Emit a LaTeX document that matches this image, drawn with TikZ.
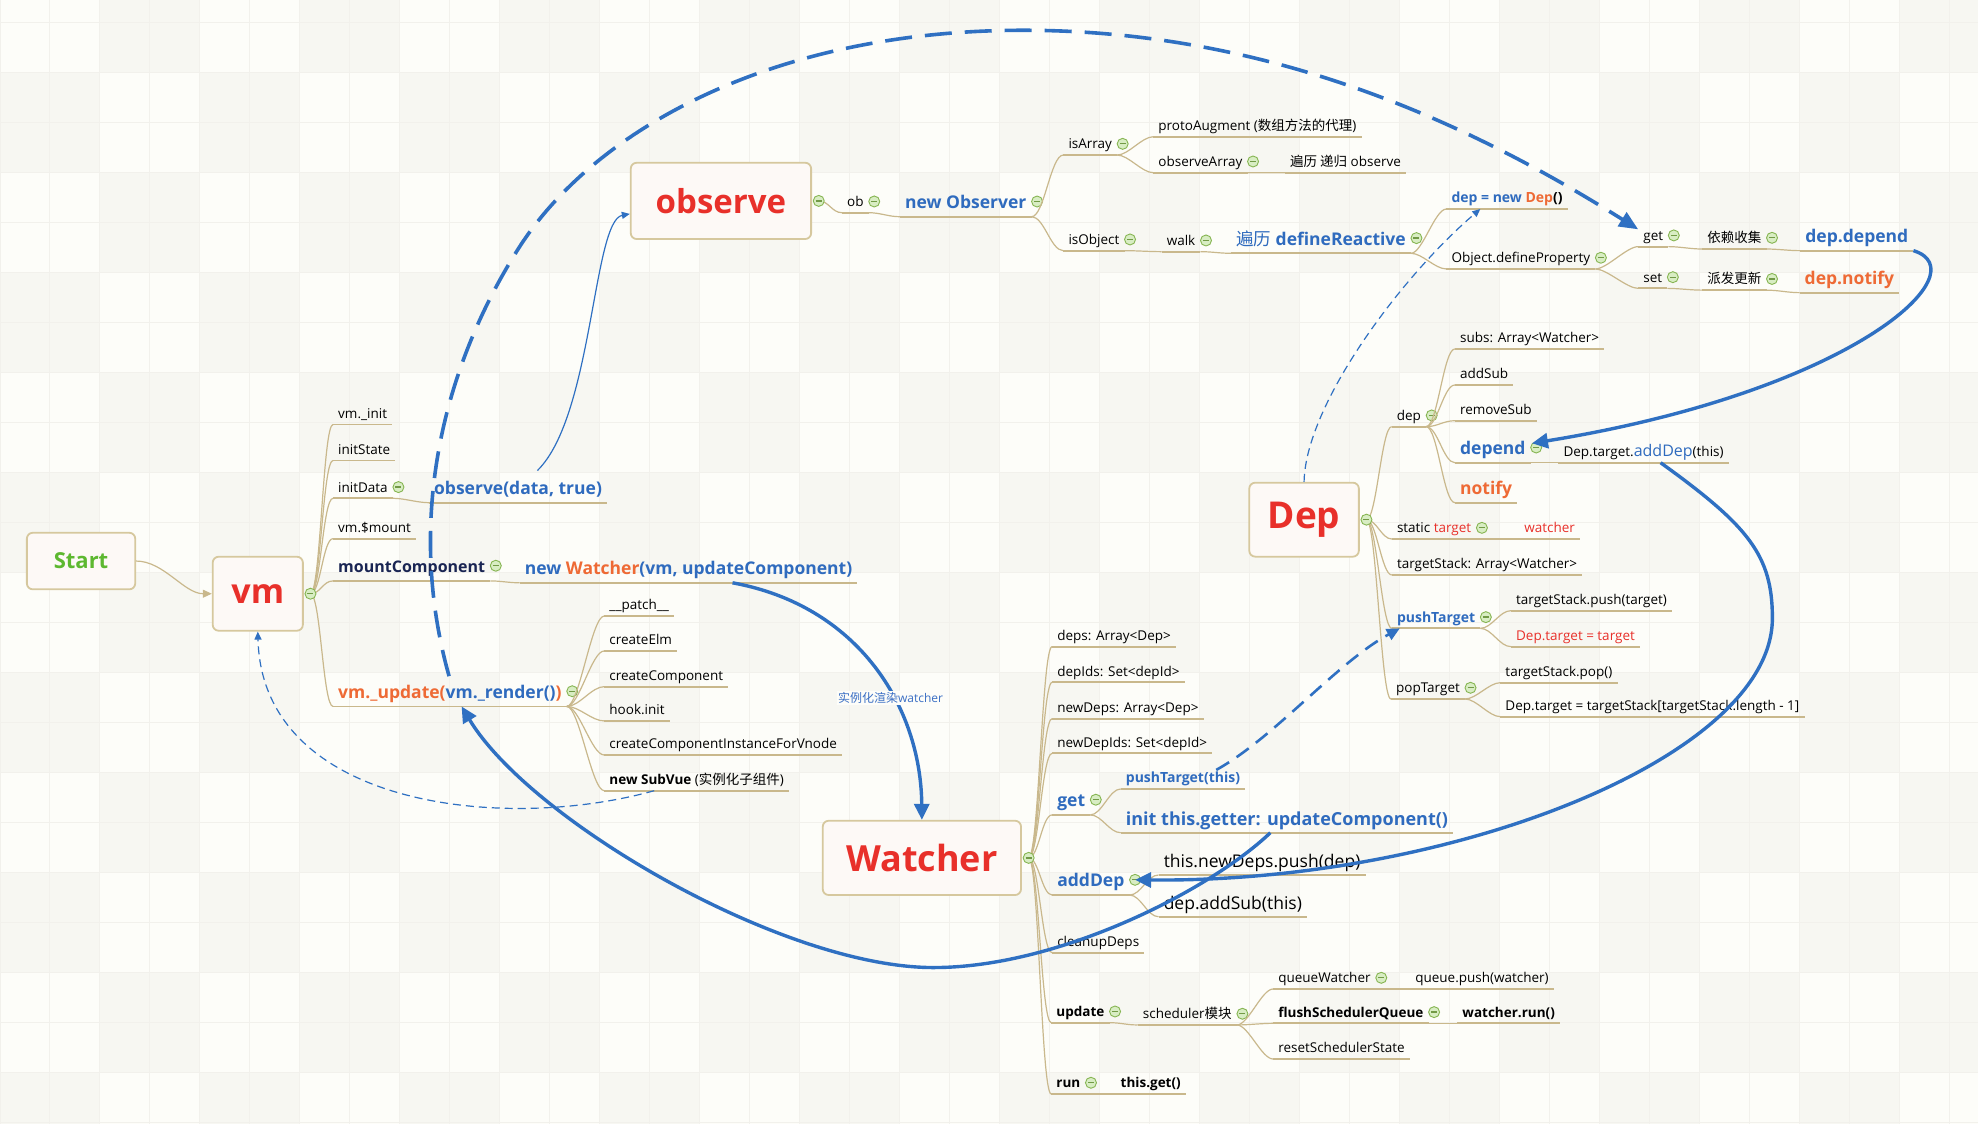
\documentclass[tikz,border=0pt]{standalone}
\usepackage{fontspec}
\setmainfont{Open Sans}
\newfontfamily\cjk{Noto Sans CJK SC}
\usetikzlibrary{arrows.meta,calc}

\definecolor{tanc}{HTML}{C9B88C}
\definecolor{boxline}{HTML}{D6C89E}
\definecolor{boxfill}{HTML}{FDF9F6}
\definecolor{mmred}{HTML}{E8302A}
\definecolor{mmorange}{HTML}{EE6A35}
\definecolor{mmblue}{HTML}{2F6BBE}
\definecolor{mmnavy}{HTML}{1A2553}
\definecolor{mmgreen}{HTML}{5DB830}
\definecolor{lnblue}{HTML}{2F70C2}
\definecolor{lblblue}{HTML}{3B6FC4}
\definecolor{iconline}{HTML}{86B552}
\definecolor{iconfill}{HTML}{D8EDC3}
\definecolor{bgc}{HTML}{FDFDF9}
\definecolor{bgcell}{HTML}{F7F7F2}
\definecolor{gridc}{HTML}{F2F1EC}

\def\mmIy{5pt}
\tikzset{
  mk/.style={circle, draw=iconline, fill=iconfill, line width=0.9pt, minimum size=11pt, inner sep=0pt,
    path picture={\draw[iconline!85!black, line width=1.3pt] ([xshift=-3pt]path picture bounding box.center) -- ([xshift=3pt]path picture bounding box.center);}},
  uline/.style={draw=tanc, line width=1.8pt},
  tp/.style={anchor=south west, inner xsep=5pt, inner ysep=2pt, text depth=4pt, font=\fontsize{13.5}{15}\selectfont, /utils/exec={\gdef\mmIy{5pt}}},
  tpm/.style={tp, text depth=6pt, font=\fontsize{17.5}{20}\selectfont\bfseries, /utils/exec={\gdef\mmIy{7pt}}},
  tpl/.style={tp, text depth=5.5pt, font=\fontsize{17.5}{20}\selectfont, /utils/exec={\gdef\mmIy{7pt}}},
  br/.style={draw=tanc, line width=1.2pt, to path={.. controls +(#1,0) and +(-#1,0) .. (\tikztotarget)}},
  br/.default=9,
  mainbox/.style={draw=boxline, fill=boxfill, rounded corners=6pt, line width=1.8pt, inner sep=0pt, text=mmred},
  thickblue/.style={draw=lnblue, line width=3.4pt, -{Triangle[length=16pt,width=15pt]}},
  thinblue/.style={draw=lnblue, line width=1.2pt, -{Triangle[length=8pt,width=7pt]}},
  thindash/.style={thinblue, dash pattern=on 8pt off 5pt},
  meddash/.style={draw=lnblue, line width=2.6pt, dash pattern=on 15pt off 9pt, -{Triangle[length=13pt,width=12pt]}},
  bigdash/.style={draw=lnblue, line width=3.6pt, dash pattern=on 27pt off 13pt, -{Triangle[length=19pt,width=16pt]}}
}
\newcommand\mmT[5][]{\node[tp,#1] (#2) at (#3,#4) {#5};\draw[uline] (#2.south west) -- (#2.south east);}
\newcommand\mmTI[5][]{\mmT[#1]{#2}{#3}{#4}{#5}\node[mk] (#2I) at ([xshift=5.5pt,yshift=\mmIy]#2.base east) {};}

\begin{document}
\begin{tikzpicture}[x=1.2615pt,y=-1.2615pt]
\useasboundingbox (0,0) rectangle (1568,891);
% background
\begin{scope}
\clip (0,0) rectangle (1568,891);
\fill[bgc] (0,0) rectangle (1568,891);
\foreach \i in {0,...,19}{\foreach \j in {0,...,12}{\pgfmathtruncatemacro\k{mod(\i+\j,2)}\ifnum\k=1 \fill[bgcell] ({\i*79.27},{\j*79.27-21.6}) rectangle ++(79.27,79.27);\fi}}
\foreach \i in {0,...,40}{\draw[gridc, line width=1pt] ({\i*39.635},0) -- ++(0,891);}
\foreach \j in {0,...,23}{\draw[gridc, line width=1pt] (0,{\j*39.635-21.6}) -- ++(1568,0);}
\end{scope}

% main boxes
\node[mainbox, minimum width=108.4pt, minimum height=56.6pt, font=\fontsize{22}{24}\selectfont\bfseries, text=mmgreen] (start) at (64.25,444.75) {Start};
\node[mainbox, minimum width=90.2pt, minimum height=74pt, font=\fontsize{34}{36}\selectfont\bfseries] (vmbox) at (204.35,470.65) {vm};
\node[mainbox, minimum width=180.4pt, minimum height=76.3pt, font=\fontsize{33}{36}\selectfont\bfseries] (obsbox) at (571.5,159.25) {observe};
\node[mainbox, minimum width=109.6pt, minimum height=74pt, font=\fontsize{37}{40}\selectfont\bfseries] (depbox) at (1033.75,411.95) {Dep};
\node[mainbox, minimum width=198.3pt, minimum height=74.3pt, font=\fontsize{36}{38}\selectfont\bfseries] (wbox) at (730.8,680.05) {Watcher};

% vm tree
\mmT{vmInit}{264}{336.5}{vm.\_init}
\mmT{initState}{264}{365}{initState}
\mmTI{initData}{264}{395}{initData}
\mmT[tpm,font=\fontsize{17.5}{19}\selectfont\bfseries,text=mmblue]{obsData}{340}{398.5}{observe(data, true)}
\mmT{vmMount}{264}{427}{vm.\$mount}
\mmTI[tpm,font=\fontsize{16}{19}\selectfont\bfseries,text=mmnavy]{mountComp}{264}{460.5}{mountComponent}
\mmT[tpm]{newWatcher}{412}{462}{\textcolor{mmblue}{new }\textcolor{mmorange}{Watcher}\textcolor{mmblue}{(vm, updateComponent)}}
\mmTI[tpm]{vmUpd}{264}{560}{\textcolor{mmorange}{vm.\_update(}\textcolor{mmblue}{vm.\_render()}\textcolor{mmorange}{)}}
\mmT{patch}{479}{488.3}{\_\_patch\_\_}
\mmT{createElm}{479}{516}{createElm}
\mmT{createComp}{479}{544.3}{createComponent}
\mmT{hookInit}{479}{571.5}{hook.init}
\mmT{ccifv}{479}{598.5}{createComponentInstanceForVnode}
\mmT{subVue}{479}{626.8}{\textbf{new SubVue} ({\cjk 实例化子组件})}

% observe tree
\mmTI{ob}{667.4}{168.6}{ob}
\mmTI[tpm,text=mmblue]{newObs}{713.4}{171.8}{new Observer}
\mmTI{isArray}{842.9}{122.9}{isArray}
\mmT{proto}{914.2}{108.4}{protoAugment ({\cjk 数组方法的代理})}
\mmTI{obsArr}{914.2}{136.9}{observeArray}
\mmT{bianli}{1018.6}{137}{{\cjk 遍历 递归} observe}
\mmTI{isObject}{842.9}{198.7}{isObject}
\mmTI{walk}{920.8}{199.5}{walk}
\mmTI[tpm,text=mmblue]{defReact}{975.8}{200.8}{{\cjk\mdseries 遍历} defineReactive}
\mmT[font=\fontsize{14}{16}\selectfont\bfseries]{depNew}{1146.5}{165.7}{\textcolor{mmblue}{dep = new }\textcolor{mmorange}{Dep}()}
\mmTI{objDef}{1146.5}{213.2}{Object.defineProperty}
\mmTI{get}{1298.6}{195.5}{get}
\mmTI{yilai}{1349.3}{197.4}{{\cjk 依赖收集}}
\mmT[tpm,text=mmblue]{depDepend}{1427}{198.7}{dep.depend}
\mmTI{set}{1298.6}{228.6}{set}
\mmTI{paifa}{1349.3}{230}{{\cjk 派发更新}}
\mmT[tpm,text=mmorange]{depNotify}{1426.5}{232}{dep.notify}

% Dep tree
\mmTI{depK}{1103.2}{338.2}{dep}
\mmT{subs}{1153.3}{276.6}{subs: Array<Watcher>}
\mmT{addSub}{1153.3}{305.2}{addSub}
\mmT{removeSub}{1153.3}{333.5}{removeSub}
\mmTI[tpm,text=mmblue]{depend}{1153.3}{366.8}{depend}
\mmT[font=\fontsize{13.5}{16}\selectfont]{addDepCall}{1235.3}{366.8}{Dep.target.\textcolor{mmblue}{\fontsize{16}{18}\selectfont addDep}(this)}
\mmT[tpm,text=mmorange]{notify}{1153.3}{398.5}{notify}
\mmTI{staticT}{1103.3}{427.3}{static \textcolor{mmred}{target}}
\mmT{watcherT}{1204.3}{427.3}{\textcolor{mmred}{watcher}}
\mmT{tStack}{1103.3}{455.8}{targetStack: Array<Watcher>}
\mmTI[font=\fontsize{14}{16}\selectfont\bfseries,text=mmblue]{pushT}{1103.3}{498.1}{pushTarget}
\mmT{tsPush}{1197.7}{484.1}{targetStack.push(target)}
\mmT[text=mmred]{depTT}{1197.7}{512.6}{Dep.target = target}
\mmTI{popT}{1102.6}{554.1}{popTarget}
\mmT{tsPop}{1189.3}{541.2}{targetStack.pop()}
\mmT{depTS}{1189.3}{568.1}{Dep.target = targetStack[targetStack.length - 1]}

% Watcher tree
\mmT{deps}{834}{512.6}{deps: Array<Dep>}
\mmT{depIds}{834}{540.9}{depIds: Set<depId>}
\mmT{newDeps}{834}{569.7}{newDeps: Array<Dep>}
\mmT{newDepIds}{834}{597.2}{newDepIds: Set<depId>}
\mmTI[tpm,text=mmblue]{wget}{834}{646}{get}
\mmT[font=\fontsize{14}{16}\selectfont\bfseries,text=mmblue]{ptThis}{888.4}{625.4}{pushTarget(this)}
\mmT[tpl,font=\fontsize{18}{20}\selectfont\bfseries,text=mmblue]{initGet}{888.4}{660.1}{init this.getter: updateComponent()}
\mmTI[tpm,text=mmblue]{addDep}{834}{709.5}{addDep}
\mmT[tpl]{nDepsPush}{918.4}{693.6}{this.newDeps.push(dep)}
\mmT[tpl]{addSubThis}{918.4}{726.7}{dep.addSub(this)}
\mmT{cleanup}{834}{755.2}{cleanupDeps}
\mmTI[font=\fontsize{13.5}{15}\selectfont\bfseries]{update}{833.3}{810.7}{update}
\mmTI{sched}{901.9}{812.5}{scheduler{\cjk 模块}}
\mmTI{qW}{1009.2}{784}{queueWatcher}
\mmT{qPush}{1117.8}{784}{queue.push(watcher)}
\mmTI[font=\fontsize{13.5}{15}\selectfont\bfseries]{flush}{1009.2}{811.2}{flushSchedulerQueue}
\mmT[font=\fontsize{13.5}{15}\selectfont\bfseries]{wRun}{1155.2}{811.2}{watcher.run()}
\mmT{reset}{1009.2}{839.5}{resetSchedulerState}
\mmTI[font=\fontsize{13.5}{15}\selectfont\bfseries]{run}{833.3}{867.2}{run}
\mmT[font=\fontsize{13.5}{15}\selectfont\bfseries]{thisGet}{884.3}{867.2}{this.get()}

% box junction icons positions
\coordinate (vmJ) at ([xshift=6.7pt]vmbox.east);
\coordinate (obsJ) at ([xshift=6.7pt]obsbox.east);
\coordinate (depJ) at ([xshift=6.7pt]depbox.east);
\coordinate (wJ) at ([xshift=6.7pt]wbox.east);

% tan connectors
\draw[br=22, -{Triangle[length=9pt,width=8pt]}] (start.east) to (vmbox.west);
\foreach \c in {vmInit,initState,initData,vmMount,mountComp,vmUpd} \draw[br=8] (vmJ) to (\c.south west);
\draw[br] (initData.south east) to (obsData.south west);
\draw[br] (mountComp.south east) to (newWatcher.south west);
\foreach \c in {patch,createElm,createComp,hookInit,ccifv,subVue} \draw[br=10] (vmUpd.south east) to (\c.south west);

\draw[br=8] (obsJ) to (ob.south west);
\draw[br] (ob.south east) to (newObs.south west);
\foreach \c in {isArray,isObject} \draw[br=10] (newObs.south east) to (\c.south west);
\foreach \c in {proto,obsArr} \draw[br] (isArray.south east) to (\c.south west);
\draw[br] (obsArr.south east) to (bianli.south west);
\draw[br] (isObject.south east) to (walk.south west);
\draw[br] (walk.south east) to (defReact.south west);
\foreach \c in {depNew,objDef} \draw[br] (defReact.south east) to (\c.south west);
\foreach \c in {get,set} \draw[br] (objDef.south east) to (\c.south west);
\draw[br] (get.south east) to (yilai.south west);
\draw[br] (yilai.south east) to (depDepend.south west);
\draw[br] (set.south east) to (paifa.south west);
\draw[br] (paifa.south east) to (depNotify.south west);

\foreach \c in {depK,staticT,tStack,pushT,popT} \draw[br=8] (depJ) to (\c.south west);
\foreach \c in {subs,addSub,removeSub,depend,notify} \draw[br] (depK.south east) to (\c.south west);
\draw[br] (depend.south east) to (addDepCall.south west);
\draw[br] (staticT.south east) to (watcherT.south west);
\foreach \c in {tsPush,depTT} \draw[br] (pushT.south east) to (\c.south west);
\foreach \c in {tsPop,depTS} \draw[br] (popT.south east) to (\c.south west);

\foreach \c in {deps,depIds,newDeps,newDepIds,wget,addDep,cleanup,update,run} \draw[br=8] (wJ) to (\c.south west);
\foreach \c in {ptThis,initGet} \draw[br] (wget.south east) to (\c.south west);
\foreach \c in {nDepsPush,addSubThis} \draw[br] (addDep.south east) to (\c.south west);
\draw[br] (update.south east) to (sched.south west);
\foreach \c in {qW,flush,reset} \draw[br] (sched.south east) to (\c.south west);
\draw[br] (qW.south east) to (qPush.south west);
\draw[br] (flush.south east) to (wRun.south west);
\draw[br] (run.south east) to (thisGet.south west);

% box icons
\node[mk] (vmI) at (vmJ) {};
\node[mk] (obsI) at (obsJ) {};
\node[mk] (depI) at (depJ) {};
\node[mk] (wI) at (wJ) {};

% blue connectors
\coordinate (arcS) at (356,536);
\draw[bigdash] (arcS) .. controls (323,419) and (347,298) .. (411,197) .. controls (470,104) and (611,24) .. (811,24) .. controls (1011,24) and (1170,101) .. (get.north west);
\coordinate (obsS) at (426,373);
\draw[thinblue] (obsS) .. controls (470,330) and (470,175) .. ([yshift=-13pt]obsbox.west);
\draw[thickblue] ($(newWatcher.south west)!0.63!(newWatcher.south east)$) .. controls (680,480) and (730,560) .. (wbox.north);
\draw[thindash] ($(subVue.south west)!0.27!(subVue.south east)$) .. controls (400,660) and (208,640) .. (vmbox.south);
\draw[thickblue] ($(initGet.south west)!0.45!(initGet.south east)$) .. controls (960,705) and (840,767) .. (740,767) .. controls (620,767) and (420,650) .. ($(vmUpd.south west)!0.55!(vmUpd.south east)$);
\draw[thickblue] (depDepend.south east) .. controls (1570,215) and (1470,310) .. (dependI.north west);
\draw[thickblue] ($(addDepCall.south west)!0.6!(addDepCall.south east)$) .. controls (1386,417) and (1405,440) .. (1405,490) .. controls (1405,600) and (1150,700) .. (addDepI.center);
\draw[thindash] (depbox.north) .. controls (1035,320) and (1112,218) .. ($(depNew.south west)!0.28!(depNew.south east)$);
\draw[meddash] ([xshift=-29pt]ptThis.north east) .. controls (1010,585) and (1060,525) .. ([xshift=8pt]pushT.south west);

\node[fill=bgc, inner sep=1.5pt, text=lblblue, font=\fontsize{12}{14}\selectfont] (lbl) at (706,553) {{\cjk 实例化渲染}watcher};
\end{tikzpicture}
\end{document}
